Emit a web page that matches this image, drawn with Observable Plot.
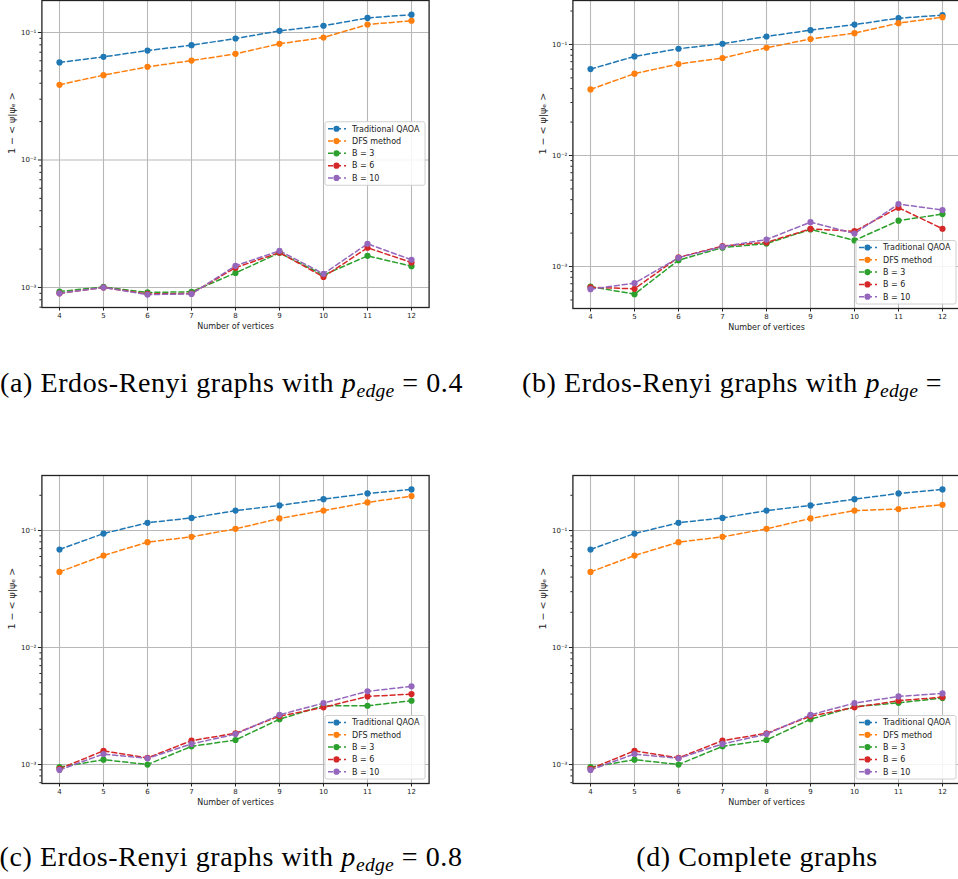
<!DOCTYPE html>
<html><head><meta charset="utf-8">
<script src="https://cdn.jsdelivr.net/npm/d3@7"></script>
<script src="https://cdn.jsdelivr.net/npm/@observablehq/plot@0.6"></script>
<style>
body{margin:0;background:#fff;}
#fig{position:relative;width:958px;height:879px;overflow:hidden;background:#fff;}
.panel{position:absolute;}
.cap{position:absolute;font-family:"Liberation Serif","DejaVu Serif",serif;font-size:28px;letter-spacing:0.6px;white-space:nowrap;color:#000;text-align:center;width:640px;line-height:30px;}
.cap.leftal{text-align:left;width:auto;}
.cap sub{font-size:0.7em;vertical-align:-0.25em;line-height:0;letter-spacing:0.3px;}
</style></head><body><div id="fig"></div><script>
// ---- data ----
const vertices = [4, 5, 6, 7, 8, 9, 10, 11, 12];
const seriesNames = ["Traditional QAOA", "DFS method", "B = 3", "B = 6", "B = 10"];
const seriesColors = ["#1f77b4", "#ff7f0e", "#2ca02c", "#d62728", "#9467bd"];
const yTickValues = [1e-3, 1e-2, 1e-1];
const yTickLabels = ["10⁻³", "10⁻²", "10⁻¹"];
const xLabel = "Number of vertices";
const yLabel = "1 − < ψ|ψₑ >";

// (a) Erdos-Renyi p = 0.4
const a_traditional = [0.0582, 0.0644, 0.0722, 0.0795, 0.0897, 0.103, 0.113, 0.130, 0.138];
const a_dfs         = [0.0389, 0.0463, 0.0538, 0.0602, 0.0680, 0.0815, 0.0914, 0.1155, 0.1236];
const a_b3          = [0.00093, 0.00101, 0.000914, 0.000925, 0.00130, 0.00187, 0.00125, 0.00177, 0.00147];
const a_b6          = [0.00090, 0.00100, 0.00089, 0.000897, 0.00143, 0.00188, 0.00121, 0.00205, 0.00157];
const a_b10         = [0.00090, 0.00100, 0.00088, 0.00089, 0.00148, 0.00194, 0.00128, 0.00220, 0.00165];

// (b) Erdos-Renyi (caption cut off at the right edge)
const b_traditional = [0.0600, 0.0780, 0.0915, 0.1015, 0.118, 0.1346, 0.151, 0.1725, 0.1835];
const b_dfs         = [0.0394, 0.0546, 0.0667, 0.0755, 0.0934, 0.112, 0.1265, 0.1556, 0.176];
const b_b3          = [0.00066, 0.000564, 0.00114, 0.00148, 0.00161, 0.00216, 0.00172, 0.00259, 0.00297];
const b_b6          = [0.00065, 0.00063, 0.00121, 0.00153, 0.00165, 0.00218, 0.00208, 0.00339, 0.00219];
const b_b10         = [0.000625, 0.000708, 0.00120, 0.00151, 0.00175, 0.00251, 0.00198, 0.00365, 0.00323];

// (c) Erdos-Renyi p = 0.8
const c_traditional = [0.0688, 0.0942, 0.1164, 0.128, 0.148, 0.1637, 0.1853, 0.2073, 0.2244];
const c_dfs         = [0.0443, 0.0611, 0.0795, 0.0883, 0.1033, 0.1267, 0.148, 0.1737, 0.1967];
const c_b3          = [0.00095, 0.00110, 0.00100, 0.00143, 0.00162, 0.00244, 0.00318, 0.00318, 0.00351];
const c_b6          = [0.00092, 0.00131, 0.00114, 0.00160, 0.00185, 0.00259, 0.00308, 0.00382, 0.00400];
const c_b10         = [0.00090, 0.00123, 0.00113, 0.00150, 0.00182, 0.00266, 0.00335, 0.00422, 0.00466];

// (d) Complete graphs
const d_traditional = [0.0688, 0.0942, 0.1164, 0.128, 0.148, 0.1637, 0.1853, 0.2073, 0.2244];
const d_dfs         = [0.0443, 0.0611, 0.0795, 0.0883, 0.1033, 0.1267, 0.148, 0.1524, 0.166];
const d_b3          = [0.00095, 0.00110, 0.00100, 0.00143, 0.00162, 0.00244, 0.00312, 0.00337, 0.00370];
const d_b6          = [0.00092, 0.00131, 0.00114, 0.00160, 0.00185, 0.00259, 0.00308, 0.00351, 0.00377];
const d_b10         = [0.00090, 0.00123, 0.00113, 0.00150, 0.00182, 0.00266, 0.00335, 0.00382, 0.00405];

const captionA = ["(a) Erdos-Renyi graphs with ", "= 0.4"];
const captionB = ["(b) Erdos-Renyi graphs with ", "="];
const captionC = ["(c) Erdos-Renyi graphs with ", "= 0.8"];
const captionD = "(d) Complete graphs";

// ---- drawing ----
const fig = document.getElementById("fig");
const DASH = "5,3";

function makePanel(series, cfg) {
  const rows = [];
  seriesNames.forEach((s, i) => series[i].forEach((v, j) => rows.push({series: s, n: vertices[j], v})));
  const [lo, hi] = cfg.ydom;
  const minor = [];
  for (let e = -5; e <= 0; e++) for (let m = 2; m < 10; m++) {
    const t = m * Math.pow(10, e);
    if (t >= lo && t <= hi) minor.push(t);
  }
  const plot = Plot.plot({
    width: 440, height: cfg.h,
    marginLeft: cfg.ml, marginRight: cfg.mr, marginTop: cfg.mt, marginBottom: cfg.mb,
    style: {fontFamily: "DejaVu Sans", fontSize: "7px", color: "#222", background: "transparent", overflow: "visible"},
    x: {domain: [3.6, 12.4], axis: null},
    y: {type: "log", domain: [lo, hi], axis: null},
    color: {domain: seriesNames, range: seriesColors},
    marks: [
      Plot.gridX(vertices, {stroke: "#b8b8b8", strokeOpacity: 1, strokeWidth: 1.1}),
      Plot.gridY(yTickValues, {stroke: "#b8b8b8", strokeOpacity: 1, strokeWidth: 1.1}),
      Plot.line(rows, {x: "n", y: "v", z: "series", stroke: "series", strokeWidth: 1.5, strokeDasharray: DASH}),
      Plot.dot(rows, {x: "n", y: "v", fill: "series", r: 3.1}),
      Plot.frame({stroke: "#222", strokeWidth: 1.3}),
      Plot.axisX(vertices, {tickSize: 3.5, tickPadding: 2, tickFormat: d => String(d), label: null, fontSize: 7}),
      Plot.axisY(yTickValues, {tickSize: 3.5, tickPadding: 2, tickFormat: d => yTickLabels[yTickValues.indexOf(d)], label: null, fontSize: 7}),
      Plot.axisY(minor, {tickSize: 2, tickFormat: () => "", label: null}),
      Plot.text([xLabel], {frameAnchor: "bottom", dy: 19, lineAnchor: "middle", fontSize: 8, fill: "#222"}),
      Plot.text([yLabel], {frameAnchor: "left", dx: -30, rotate: -90, lineAnchor: "middle", fontSize: 9.5, fill: "#222"})
    ]
  });
  // legend
  const xs = plot.scale("x").range, ys = plot.scale("y").range;
  const bw = 100, bh = 63.5;
  const left = xs[1] - 3.6 - bw;
  const top = cfg.legend === "center right" ? (ys[0] + ys[1]) / 2 - bh / 2 : ys[0] - 4 - bh;
  const g = d3.select(plot).append("g").attr("font-family", "DejaVu Sans").attr("font-size", 8).attr("text-anchor", "start");
  g.append("rect").attr("x", left).attr("y", top).attr("width", bw).attr("height", bh)
    .attr("rx", 2).attr("fill", "#fff").attr("fill-opacity", 0.85).attr("stroke", "#d0d0d0").attr("stroke-width", 1);
  seriesNames.forEach((s, i) => {
    const cy = top + 7 + i * 12.3;
    g.append("line").attr("x1", left + 3).attr("x2", left + 21).attr("y1", cy).attr("y2", cy)
      .attr("stroke", seriesColors[i]).attr("stroke-width", 1.5).attr("stroke-dasharray", DASH);
    g.append("circle").attr("cx", left + 11.5).attr("cy", cy).attr("r", 3.1).attr("fill", seriesColors[i]);
    g.append("text").attr("x", left + 27).attr("y", cy).attr("dy", "0.35em").attr("text-anchor", "start").attr("fill", "#222").text(s);
  });
  plot.classList.add("panel");
  plot.style.left = cfg.left + "px";
  plot.style.top = cfg.top + "px";
  fig.appendChild(plot);
}

makePanel([a_traditional, a_dfs, a_b3, a_b6, a_b10],
  {left: 0, top: 0, h: 340, ml: 41.4, mr: 11.4, mt: 0, mb: 33, ydom: [Math.pow(10, -3.157), Math.pow(10, -0.749)], legend: "center right"});
makePanel([b_traditional, b_dfs, b_b3, b_b6, b_b10],
  {left: 530, top: 0, h: 340, ml: 42.4, mr: 10.4, mt: 0, mb: 32, ydom: [Math.pow(10, -3.378), Math.pow(10, -0.604)], legend: "lower right"});
makePanel([c_traditional, c_dfs, c_b3, c_b6, c_b10],
  {left: 0, top: 470, h: 350, ml: 41.4, mr: 11.4, mt: 5, mb: 37, ydom: [Math.pow(10, -3.162), Math.pow(10, -0.530)], legend: "lower right"});
makePanel([d_traditional, d_dfs, d_b3, d_b6, d_b10],
  {left: 530, top: 470, h: 350, ml: 42.4, mr: 10.4, mt: 5, mb: 37, ydom: [Math.pow(10, -3.162), Math.pow(10, -0.530)], legend: "lower right"});

function caption(parts, cx, cy, leftX) {
  const div = document.createElement("div");
  div.className = "cap";
  if (leftX != null) { div.classList.add("leftal"); div.style.left = leftX + "px"; }
  else div.style.left = (cx - 320) + "px";
  div.style.top = (cy - 15) + "px";
  if (typeof parts === "string") {
    div.textContent = parts;
  } else {
    div.appendChild(document.createTextNode(parts[0]));
    const p = document.createElement("i"); p.textContent = "p"; div.appendChild(p);
    const sub = document.createElement("sub");
    const e = document.createElement("i"); e.textContent = "edge"; sub.appendChild(e);
    div.appendChild(sub);
    div.appendChild(document.createTextNode(" " + parts[1]));
  }
  fig.appendChild(div);
}
caption(captionA, 231.5, 383);
caption(captionB, 0, 383, 522);
caption(captionC, 231, 857);
caption(captionD, 757, 857);
</script></body></html>
